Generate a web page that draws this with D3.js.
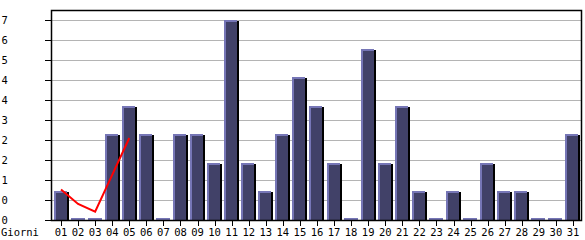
<!DOCTYPE html>
<html>
<head>
<meta charset="utf-8">
<script src="https://cdn.jsdelivr.net/npm/d3@7/dist/d3.min.js"></script>
<style>
    body { margin: 0; background: #fff; }
    svg text { font-family: "DejaVu Sans Mono", "Liberation Mono", monospace; font-size: 10.5px; fill: #000; }
</style>
</head>
<body>
<div id="chart"></div>
<script>
const days = ["01","02","03","04","05","06","07","08","09","10","11","12","13","14","15","16",
    "17","18","19","20","21","22","23","24","25","26","27","28","29","30","31"];
const visits = [1,0,0,3,4,3,0,3,3,2,7,2,1,3,5,4,2,0,6,2,4,1,0,1,0,2,1,1,0,0,3];
// red trend line, only the first days
const trendDays = ["01","02","03","04","05"];
const trendValues = [1.07, 0.56, 0.29, 1.58, 2.87];
const yTickValues = [0, 0.7, 1.4, 2.1, 2.8, 3.5, 4.2, 4.9, 5.6, 6.3, 7.0];
const yTickLabels = ["0","0","1","2","2","3","4","4","5","6","7"];
const xTitle = "Giorni";

const width = 585, height = 240;
const margin = { top: 10, right: 3, bottom: 20, left: 51 };

const svg = d3.select("#chart").append("svg")
    .attr("width", width)
    .attr("height", height);

let x = d3.scaleBand()
    .domain(days)
    .range([53.5, 580.5])
    .paddingInner(0.12)
    .paddingOuter(0);

let y = d3.scaleLinear()
    .domain([0, 7.35])
    .range([height - margin.bottom, margin.top]);

const baseY = y(0);

// grid lines
svg.append("g")
    .selectAll("line")
    .data(yTickValues.slice(1))
    .join("line")
    .attr("x1", margin.left)
    .attr("x2", width - margin.right)
    .attr("y1", d => Math.round(y(d)) + 0.5)
    .attr("y2", d => Math.round(y(d)) + 0.5)
    .attr("stroke", "#b4b4b4")
    .attr("stroke-width", 1);

// bars
let bw = x.bandwidth();
let bars = svg.append("g")
    .selectAll("g")
    .data(days.map((d, i) => ({ day: d, v: visits[i] })))
    .join("g");

bars.each(function (d) {
    let g = d3.select(this);
    let x0 = Math.round(x(d.day));
    let w = Math.round(bw) - 2;
    if (d.v === 0) {
        g.append("rect")
            .attr("x", x0).attr("y", baseY - 2)
            .attr("width", w + 1).attr("height", 2)
            .attr("fill", "#7676b6");
        return;
    }
    let top = Math.round(y(d.v));
    // black shadow on the right
    g.append("rect")
        .attr("x", x0 + w).attr("y", top + 1)
        .attr("width", 2).attr("height", baseY - top - 1)
        .attr("fill", "#000");
    // light edge
    g.append("rect")
        .attr("x", x0).attr("y", top)
        .attr("width", w).attr("height", baseY - top)
        .attr("fill", "#7676b6");
    // body
    g.append("rect")
        .attr("x", x0 + 2).attr("y", top + 2)
        .attr("width", w - 2).attr("height", baseY - top - 2)
        .attr("fill", "#414168");
});

// frame
svg.append("rect")
    .attr("x", margin.left + 0.5)
    .attr("y", margin.top + 0.5)
    .attr("width", width - margin.right - margin.left - 1)
    .attr("height", baseY - margin.top)
    .attr("fill", "none")
    .attr("stroke", "#000")
    .attr("stroke-width", 1.5);

// y axis ticks and labels
let yAxis = svg.append("g");
yAxis.selectAll("line")
    .data(yTickValues)
    .join("line")
    .attr("x1", margin.left - 6)
    .attr("x2", margin.left)
    .attr("y1", d => Math.round(y(d)) + 0.5)
    .attr("y2", d => Math.round(y(d)) + 0.5)
    .attr("stroke", "#000");
yAxis.selectAll("text")
    .data(yTickValues)
    .join("text")
    .attr("x", 1.5)
    .attr("y", d => y(d) + 4)
    .text((d, i) => yTickLabels[i]);

// x axis ticks and labels
let xAxis = svg.append("g");
xAxis.selectAll("line")
    .data(days)
    .join("line")
    .attr("x1", d => Math.round(x(d) + bw / 2) + 0.5)
    .attr("x2", d => Math.round(x(d) + bw / 2) + 0.5)
    .attr("y1", baseY)
    .attr("y2", baseY + 6)
    .attr("stroke", "#000");
xAxis.selectAll("text")
    .data(days)
    .join("text")
    .attr("x", d => x(d) + bw / 2)
    .attr("y", baseY + 16)
    .attr("text-anchor", "middle")
    .text(d => d);

svg.append("text")
    .attr("x", 1)
    .attr("y", baseY + 16)
    .text(xTitle);

// trend line
let line = d3.line()
    .x((d, i) => x(trendDays[i]) + bw / 2)
    .y(d => y(d))
    .curve(d3.curveLinear);

svg.append("path")
    .datum(trendValues)
    .attr("d", line)
    .attr("fill", "none")
    .attr("stroke", "#ff0000")
    .attr("stroke-width", 2);
</script>
</body>
</html>
